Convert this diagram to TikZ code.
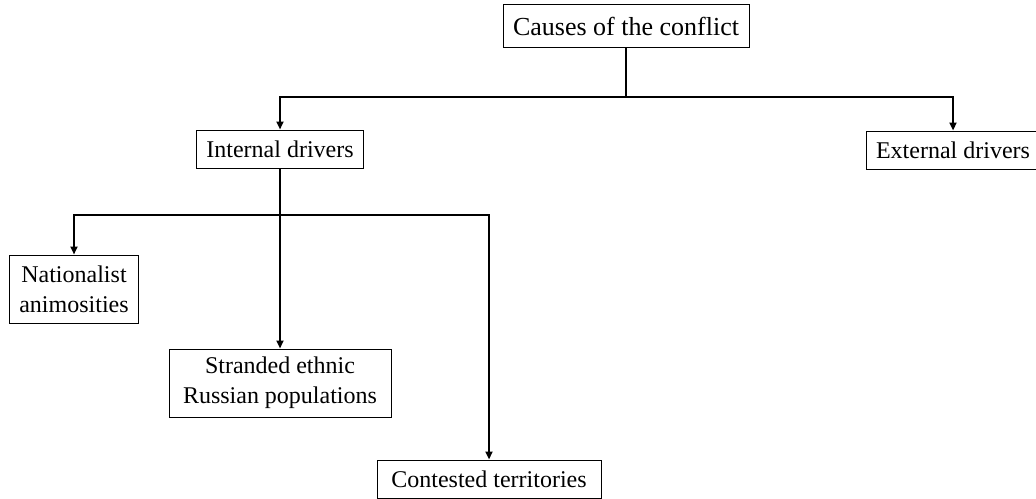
\documentclass[tikz,border=0pt]{standalone}
\usepackage{fontspec}
\setmainfont{Liberation Serif}
\usetikzlibrary{arrows.meta,positioning}
\definecolor{linkcolor}{HTML}{000000}
\tikzset{
  drvbox/.style={draw=black,line width=0.5pt,inner xsep=5pt,inner ysep=2pt,
                 minimum height=19pt,align=center,font=\fontsize{12}{15}\selectfont},
  twoline/.style={drvbox,minimum height=34pt},
  rail/.style={draw=linkcolor,line width=1pt},
  link/.style={rail,-{Triangle[length=4pt,width=3.5pt]}},
}

\begin{document}
\begin{tikzpicture}[x=0.5pt,y=-0.5pt]
  \useasboundingbox (0,0) rectangle (1036,498);
  \node[drvbox,minimum height=21.5pt,font=\fontsize{13}{15}\selectfont] (causes) at (626,26) {Causes of the conflict};
  \node[drvbox] (internal) at (280,149) {Internal drivers};
  \node[drvbox] (external) at (953,150) {External drivers};
  \node[twoline] (nationalist) at (74,289) {Nationalist\\animosities};
  \node[twoline,minimum width=111pt] (stranded) at (280,383) {Stranded ethnic\\Russian populations};
  \node[drvbox,minimum width=112pt] (contested) at (489,479) {Contested territories};

  \coordinate (upperrail) at (0,97);
  \coordinate (lowerrail) at (0,215);

  \draw[rail] (causes.south) -- (causes.south |- upperrail);
  \draw[link] (causes.south |- upperrail) -| (internal.north);
  \draw[link] (causes.south |- upperrail) -| (external.north);

  \draw[link] (internal.south) -- (stranded.north);
  \draw[link] (internal.south |- lowerrail) -| (nationalist.north);
  \draw[link] (internal.south |- lowerrail) -| (contested.north);
\end{tikzpicture}
\end{document}
